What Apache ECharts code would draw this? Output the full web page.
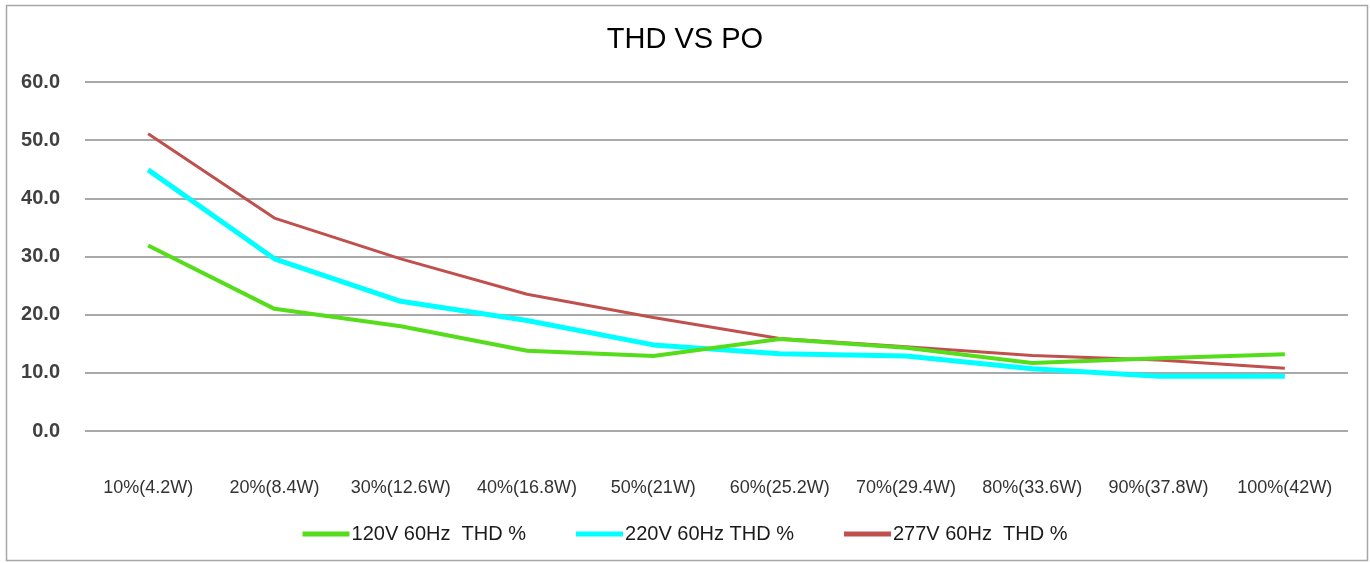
<!DOCTYPE html>
<html>
<head>
<meta charset="utf-8">
<title>THD VS PO</title>
<script src="https://cdn.jsdelivr.net/npm/echarts@6/dist/echarts.min.js"></script>
<style>
  html, body { margin: 0; padding: 0; background: #fff; }
  #chart { width: 1370px; height: 563px; }
</style>
</head>
<body>
<div id="chart"></div>
<script>
// load points
const categories = ['10%(4.2W)', '20%(8.4W)', '30%(12.6W)', '40%(16.8W)', '50%(21W)',
  '60%(25.2W)', '70%(29.4W)', '80%(33.6W)', '90%(37.8W)', '100%(42W)']

// THD %
const thd120 = [31.9, 21.0, 18.0, 13.8, 12.9, 15.8, 14.3, 11.7, 12.5, 13.2]
const thd220 = [44.9, 29.6, 22.3, 19.0, 14.8, 13.3, 12.9, 10.7, 9.4, 9.4]
const thd277 = [51.1, 36.6, 29.6, 23.5, 19.5, 15.9, 14.5, 13.0, 12.2, 10.8]

const seriesNames = ['120V 60Hz  THD %', '220V 60Hz THD %', '277V 60Hz  THD %']
const seriesColors = ['#55DD1C', '#00FFFF', '#C0504D']
const seriesWidths = [4, 5, 3]
const seriesData = [thd120, thd220, thd277]

const font = '"Liberation Sans", Arial, sans-serif'

const dom = echarts.init(document.getElementById('chart'))

const option = {
  animation: false,
  backgroundColor: '#fff',
  textStyle: { fontFamily: font },
  title: {
    text: 'THD VS PO',
    left: 'center',
    top: 20,
    textStyle: {
      fontFamily: font,
      fontSize: 29,
      fontWeight: 'normal',
      color: '#000'
    }
  },
  graphic: [
    {
      type: 'rect',
      shape: { x: 6.5, y: 5.5, width: 1361, height: 555 },
      style: { fill: 'none', stroke: '#a6a6a6', lineWidth: 1.5 },
      silent: true
    }
  ],
  legend: {
    left: 'center',
    top: 519,
    itemGap: 50,
    itemWidth: 47,
    itemHeight: 5,
    icon: 'rect',
    data: seriesNames,
    textStyle: {
      fontFamily: font,
      fontSize: 20,
      color: '#1a1a1a',
      padding: [0, 0, 0, -3]
    }
  },
  grid: {
    left: 85,
    right: 22,
    top: 82,
    bottom: 132,
    containLabel: false
  },
  xAxis: {
    type: 'category',
    boundaryGap: true,
    data: categories,
    axisLine: { show: false },
    axisTick: { show: false },
    axisLabel: {
      interval: 0,
      margin: 48,
      fontFamily: font,
      fontSize: 18,
      color: '#333'
    }
  },
  yAxis: {
    type: 'value',
    min: 0,
    max: 60,
    interval: 10,
    axisLine: { show: false },
    axisTick: { show: false },
    axisLabel: {
      margin: 25,
      fontFamily: font,
      fontSize: 20,
      fontWeight: 'bold',
      color: '#404040',
      formatter: v => v.toFixed(1)
    },
    splitLine: {
      lineStyle: { color: '#8c8c8c', width: 1.5 }
    }
  },
  series: seriesData.map((d, i) => ({
    name: seriesNames[i],
    type: 'line',
    data: d,
    symbol: 'none',
    color: seriesColors[i],
    lineStyle: { color: seriesColors[i], width: seriesWidths[i] },
    z: 3 - i
  }))
}

dom.setOption(option)
window.addEventListener('resize', () => dom.resize())
</script>
</body>
</html>
